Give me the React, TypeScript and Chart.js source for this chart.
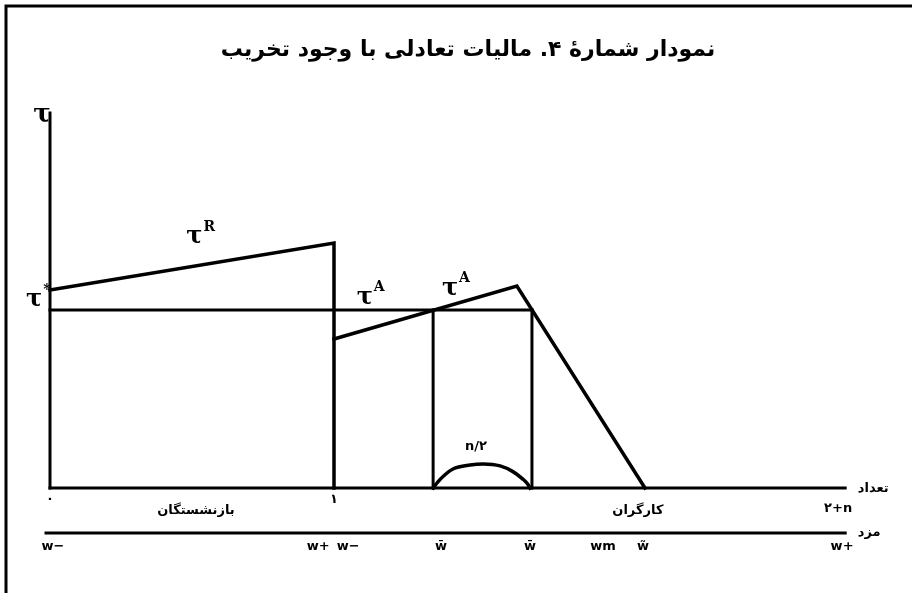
import React, { useEffect, useRef } from "react";
import { Chart, registerables } from "chart.js";

Chart.register(...registerables);

// ---- data (x: share of population, y: tax rate relative to τ*) ----
const yAxisLine = [[0, 0], [0, 2.107]];
const countAxis = [[0, 0], [2.8, 0]];
const wageAxis = [[-0.014, -0.253], [2.8, -0.253]];
const tauRetired = [[0, 1.112], [1, 1.376], [1, 0]];
const tauStar = [[0, 1], [1.697, 1]];
const tauWorkers = [[1, 0.837], [1.644, 1.135], [2.095, 0]];
const wBarLow = [[1.349, 0], [1.349, 1]];
const wBarHigh = [[1.697, 0], [1.697, 1]];
const halfArc = [
  [1.349, 0], [1.366, 0.035], [1.384, 0.065], [1.419, 0.107], [1.479, 0.129], [1.525, 0.135],
  [1.585, 0.124], [1.63, 0.092], [1.665, 0.05], [1.682, 0.022], [1.69, 0],
];
const countTicks = [0, 1, 2.775];
const countTickLabels = ["۰", "۱", "۲+n"];
const wageTicks = [0.01, 0.944, 1.05, 1.377, 1.69, 1.947, 2.088, 2.789];
const wageTickLabels = ["w\u2212", "w+", "w\u2212", "w\u0304", "w\u0304", "wm", "w\u0303", "w+"];
const groupLabels = ["بازنشستگان", "کارگران"];
const groupPos = [0.514, 2.07];
const title = "نمودار شمارهٔ ۴. مالیات تعادلی با وجود تخریب";

const toPts = (a: number[][]) => a.map(([x, y]) => ({ x, y }));

const lineDs = (data: number[][], width = 3, smooth = false) => ({
  data: toPts(data),
  borderColor: "#000",
  borderWidth: width,
  pointRadius: 0,
  showLine: true,
  fill: false,
  tension: smooth ? 0.4 : 0,
  cubicInterpolationMode: smooth ? ("monotone" as const) : ("default" as const),
  borderCapStyle: "square" as const,
  borderJoinStyle: "miter" as const,
});

const PERSIAN = "'DejaVu Sans', 'Noto Sans', sans-serif";
const SERIF = "'DejaVu Serif', 'Liberation Serif', serif";

const annot = {
  id: "annot",
  beforeDraw(chart: any) {
    const { ctx, width, height } = chart;
    ctx.save();
    ctx.fillStyle = "#fff";
    ctx.fillRect(0, 0, width, height);
    ctx.strokeStyle = "#000";
    ctx.lineWidth = 3;
    ctx.beginPath();
    ctx.moveTo(6, height);
    ctx.lineTo(6, 6);
    ctx.lineTo(width, 6);
    ctx.stroke();
    ctx.restore();
  },
  afterDatasetsDraw(chart: any) {
    const { ctx } = chart;
    const X = (v: number) => chart.scales.x.getPixelForValue(v);
    const Y = (v: number) => chart.scales.y.getPixelForValue(v);
    const txt = (s: string, x: number, y: number, font: string, align = "center", dir = "ltr") => {
      ctx.font = font;
      ctx.textAlign = align;
      ctx.textBaseline = "middle";
      ctx.direction = dir;
      ctx.fillStyle = "#000";
      ctx.fillText(s, x, y);
    };
    const sup = (base: string, s: string, x: number, y: number) => {
      ctx.font = `bold 24px ${SERIF}`;
      const w = ctx.measureText(base).width;
      txt(base, x, y, `bold 24px ${SERIF}`, "left");
      txt(s, x + w + 1, y - 10, `bold 14px ${SERIF}`, "left");
    };
    ctx.save();
    // title
    txt(title, 468, 50, `bold 22px ${PERSIAN}`, "center", "rtl");
    // axis symbol
    txt("τ", X(0) - 8, Y(2.107) + 2, `bold 26px ${SERIF}`);
    sup("τ", "*", X(0) - 24, Y(1.056));
    sup("τ", "R", X(0.48), Y(1.41));
    sup("τ", "A", X(1.08), Y(1.07));
    sup("τ", "A", X(1.38), Y(1.12));
    txt("n/۲", X(1.5), Y(0.23), `bold 13px ${PERSIAN}`);
    // count axis ticks
    countTicks.forEach((v, i) =>
      txt(countTickLabels[i], X(v), Y(0) + (i === 2 ? 21 : 12), `bold 13px ${PERSIAN}`)
    );
    groupLabels.forEach((s, i) => txt(s, X(groupPos[i]), Y(0) + 23, `bold 13px ${PERSIAN}`, "center", "rtl"));
    txt("تعداد", X(2.8) + 28, Y(0) + 1, `bold 13px ${PERSIAN}`, "center", "rtl");
    txt("مزد", X(2.8) + 24, Y(-0.253), `bold 13px ${PERSIAN}`, "center", "rtl");
    wageTicks.forEach((v, i) => txt(wageTickLabels[i], X(v), Y(-0.253) + 14, `bold 13px ${PERSIAN}`));
    ctx.restore();
  },
};

export default function App() {
  const ref = useRef<HTMLCanvasElement>(null);
  useEffect(() => {
    if (!ref.current) return;
    const pxPerX = 284;
    const pxPerY = 178;
    const xMin = -50 / pxPerX;
    const xMax = xMin + 912 / pxPerX;
    const yMax = 488 / pxPerY;
    const yMin = yMax - 593 / pxPerY;
    const chart = new Chart(ref.current, {
      type: "scatter",
      data: {
        datasets: [
          lineDs(yAxisLine, 3),
          lineDs(countAxis, 3),
          lineDs(wageAxis, 3),
          lineDs(tauRetired, 3.5),
          lineDs(tauStar, 3),
          lineDs(tauWorkers, 3.5),
          lineDs(wBarLow, 3),
          lineDs(wBarHigh, 3),
          lineDs(halfArc, 3.5, true),
        ],
      },
      options: {
        animation: false,
        responsive: false,
        layout: { padding: 0 },
        scales: {
          x: { type: "linear", min: xMin, max: xMax, display: false },
          y: { type: "linear", min: yMin, max: yMax, display: false },
        },
        plugins: { legend: { display: false }, tooltip: { enabled: false }, title: { display: false } },
      },
      plugins: [annot],
    });
    return () => chart.destroy();
  }, []);
  return (
    <div style={{ position: "absolute", left: 0, top: 0, width: 912, height: 593, background: "#fff" }}>
      <canvas ref={ref} width={912} height={593} style={{ display: "block" }} />
    </div>
  );
}
